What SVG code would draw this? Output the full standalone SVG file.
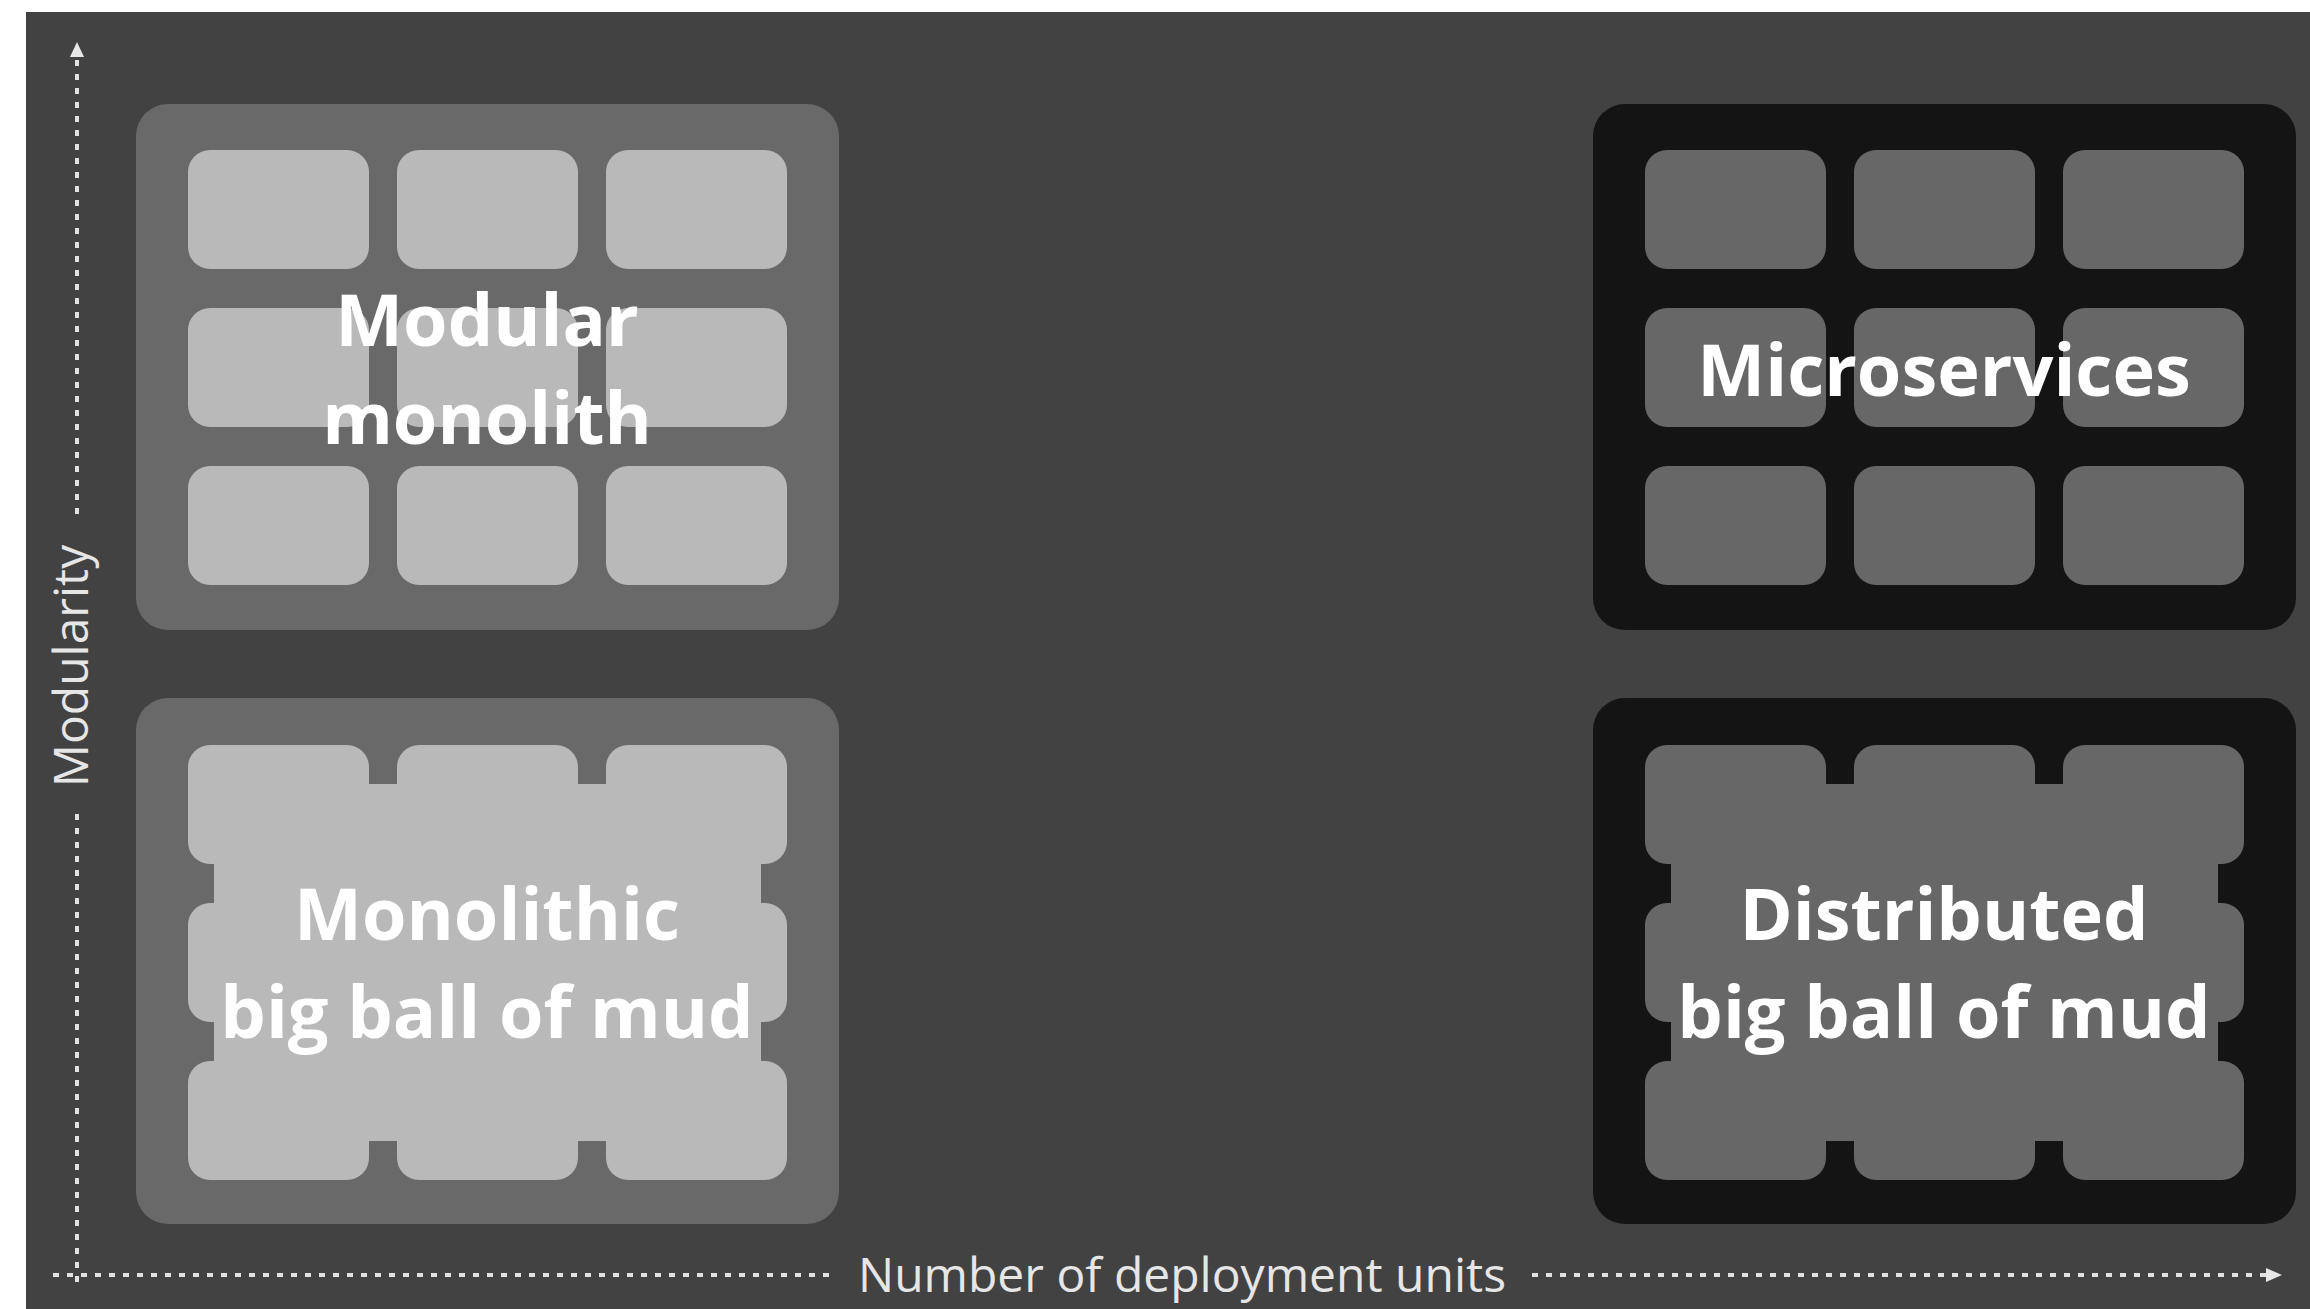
<svg xmlns="http://www.w3.org/2000/svg" width="2310" height="1309" viewBox="0 0 2310 1309">
  <style>
    .bg { fill: #424242; }
    .panelL { fill: #696969; }
    .cellL { fill: #b9b9b9; }
    .panelR { fill: #141414; }
    .cellR { fill: #676767; }
    .label { font-family: "Open Sans", "Liberation Sans", sans-serif; font-weight: 700; font-size: 72px; fill: #ffffff; text-anchor: middle; }
    .axis { stroke: #e2e2e2; stroke-width: 4; stroke-dasharray: 6 8; fill: none; }
    .axisLabel { font-family: "Open Sans", "Liberation Sans", sans-serif; font-weight: 400; font-size: 48px; fill: #e6e6e6; text-anchor: middle; }
    .arrow { fill: #e8e8e8; }
  </style>
  <defs>
    <g id="grid3">
      <rect x="0" y="0" width="181" height="119" rx="22"/>
      <rect x="209" y="0" width="181" height="119" rx="22"/>
      <rect x="418" y="0" width="181" height="119" rx="22"/>
      <rect x="0" y="158" width="181" height="119" rx="22"/>
      <rect x="209" y="158" width="181" height="119" rx="22"/>
      <rect x="418" y="158" width="181" height="119" rx="22"/>
      <rect x="0" y="316" width="181" height="119" rx="22"/>
      <rect x="209" y="316" width="181" height="119" rx="22"/>
      <rect x="418" y="316" width="181" height="119" rx="22"/>
    </g>
    <g id="blob">
      <use href="#grid3"/>
      <rect x="26" y="39" width="547" height="357"/>
    </g>
  </defs>

  <rect x="26" y="12" width="2284" height="1297" class="bg"/>

  <g id="node-modular-monolith">
    <rect x="136" y="104" width="703" height="526" rx="32" class="panelL"/>
    <use href="#grid3" x="188" y="150" class="cellL"/>
    <text class="label" x="487" y="346">Modular</text>
    <text class="label" x="487" y="444">monolith</text>
  </g>

  <g id="node-microservices">
    <rect x="1593" y="104" width="703" height="526" rx="32" class="panelR"/>
    <use href="#grid3" x="1645" y="150" class="cellR"/>
    <text class="label" x="1944" y="396">Microservices</text>
  </g>

  <g id="node-monolithic-big-ball-of-mud">
    <rect x="136" y="698" width="703" height="526" rx="32" class="panelL"/>
    <use href="#blob" x="188" y="745" class="cellL"/>
    <text class="label" x="487" y="940">Monolithic</text>
    <text class="label" x="487" y="1038">big ball of mud</text>
  </g>

  <g id="node-distributed-big-ball-of-mud">
    <rect x="1593" y="698" width="703" height="526" rx="32" class="panelR"/>
    <use href="#blob" x="1645" y="745" class="cellR"/>
    <text class="label" x="1944" y="940">Distributed</text>
    <text class="label" x="1944" y="1038">big ball of mud</text>
  </g>

  <g id="connectors">
    <line class="axis" x1="77" y1="60" x2="77" y2="516"/>
    <line class="axis" x1="77" y1="814" x2="77" y2="1290"/>
    <polygon class="arrow" points="77,42 70,57 84,57"/>
    <line class="axis" x1="53" y1="1275" x2="829" y2="1275"/>
    <line class="axis" x1="1532" y1="1275" x2="2266" y2="1275"/>
    <polygon class="arrow" points="2282,1275 2266,1268 2266,1282"/>
    <text class="axisLabel" x="88" y="666" transform="rotate(-90 88 666)">Modularity</text>
    <text class="axisLabel" x="1182" y="1292">Number of deployment units</text>
  </g>
</svg>
